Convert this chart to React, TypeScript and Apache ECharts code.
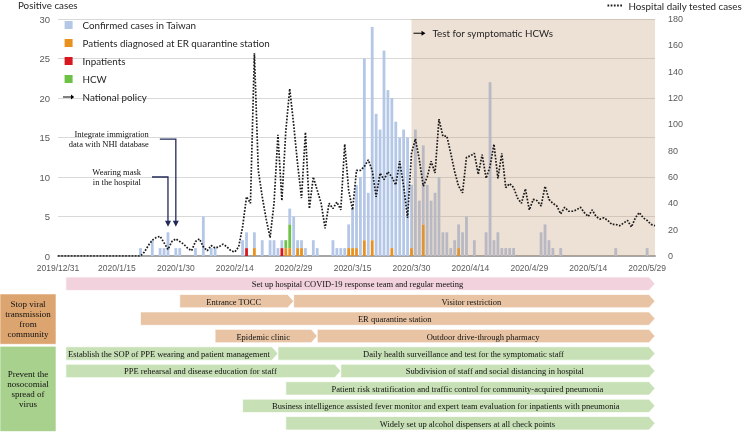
import React, { useEffect, useRef } from 'react';
import * as echarts from 'echarts';

const SANS = "Lato, 'Liberation Sans', sans-serif";
const AXIS_FONT = "'Liberation Sans', Arial, sans-serif";
const SERIF = "'Liberation Serif', 'Times New Roman', serif";

// ---- categories: every day from 2019/12/31 to 2020/5/31
const DAYS = 153;
const categories: string[] = [];
for (let i = 0; i < DAYS; i++) {
  const d = new Date(2019, 11, 31 + i);
  categories.push(`${d.getFullYear()}/${d.getMonth() + 1}/${d.getDate()}`);
}
const dayIndex = (s: string) => categories.indexOf(s);

// ---- confirmed cases in Taiwan (total per day)
const confirmedCases: [string, number][] = [
  ['2020/1/21', 1], ['2020/1/24', 2], ['2020/1/26', 1], ['2020/1/27', 1], ['2020/1/28', 3],
  ['2020/1/30', 1], ['2020/1/31', 1], ['2020/2/4', 1], ['2020/2/6', 5], ['2020/2/8', 1],
  ['2020/2/9', 1], ['2020/2/16', 2], ['2020/2/17', 3], ['2020/2/19', 3], ['2020/2/21', 2],
  ['2020/2/23', 2], ['2020/2/24', 2], ['2020/2/25', 1], ['2020/2/26', 2], ['2020/2/27', 2],
  ['2020/2/28', 6], ['2020/2/29', 5], ['2020/3/1', 2], ['2020/3/2', 2], ['2020/3/3', 1],
  ['2020/3/5', 2], ['2020/3/6', 1], ['2020/3/10', 2], ['2020/3/11', 1], ['2020/3/12', 1],
  ['2020/3/13', 1], ['2020/3/14', 4], ['2020/3/15', 6], ['2020/3/16', 9], ['2020/3/17', 10],
  ['2020/3/18', 25], ['2020/3/19', 8], ['2020/3/20', 29], ['2020/3/21', 18], ['2020/3/22', 16],
  ['2020/3/23', 26], ['2020/3/24', 21], ['2020/3/25', 20], ['2020/3/26', 17], ['2020/3/27', 15],
  ['2020/3/28', 16], ['2020/3/29', 15], ['2020/3/30', 9], ['2020/3/31', 16], ['2020/4/1', 7],
  ['2020/4/2', 14], ['2020/4/3', 9], ['2020/4/4', 7], ['2020/4/5', 8], ['2020/4/6', 10],
  ['2020/4/7', 3], ['2020/4/8', 3], ['2020/4/9', 1], ['2020/4/10', 2], ['2020/4/11', 4],
  ['2020/4/12', 3], ['2020/4/13', 5], ['2020/4/15', 2], ['2020/4/18', 3], ['2020/4/19', 22],
  ['2020/4/20', 2], ['2020/4/21', 3], ['2020/4/22', 1], ['2020/4/23', 1], ['2020/4/24', 1],
  ['2020/4/25', 1], ['2020/5/2', 3], ['2020/5/3', 4], ['2020/5/4', 2], ['2020/5/5', 1],
  ['2020/5/7', 1], ['2020/5/21', 1], ['2020/5/29', 1],
];
// subsets of the confirmed cases
const erQuarantineCases: [string, number][] = [
  ['2020/2/19', 1], ['2020/2/27', 1], ['2020/2/28', 1], ['2020/3/1', 1], ['2020/3/2', 1],
  ['2020/3/14', 1], ['2020/3/15', 1], ['2020/3/16', 1], ['2020/3/18', 2], ['2020/3/20', 2],
  ['2020/3/25', 1], ['2020/3/30', 1], ['2020/4/2', 4], ['2020/4/11', 1],
];
const inpatientCases: [string, number][] = [['2020/2/17', 1], ['2020/2/26', 1]];
const hcwCases: [string, number][] = [['2020/2/27', 1], ['2020/2/28', 3]];

// ---- hospital daily tested cases (one value per day)
const testedCases: number[] = [
  0, 0, 0, 0, 0, 0, 0, 0, 0, 0,
  0, 0, 0, 0, 0, 0, 0, 0, 0, 0,
  0, 0, 3, 8, 12, 14, 15, 10, 5, 11,
  13, 11, 9, 6, 4, 11, 13, 7, 4, 8,
  6, 7, 9, 7, 4, 3, 7, 22, 45, 40,
  154, 65, 45, 28, 14, 40, 92, 42, 95, 127,
  100, 70, 44, 94, 36, 60, 50, 40, 21, 40,
  36, 41, 35, 85, 50, 35, 65, 65, 68, 73,
  65, 45, 63, 58, 64, 60, 54, 72, 53, 29,
  78, 89, 73, 53, 60, 72, 63, 104, 91, 91,
  78, 64, 53, 48, 75, 76, 78, 62, 77, 59,
  68, 85, 59, 78, 52, 55, 52, 44, 40, 51,
  35, 43, 42, 38, 53, 43, 40, 38, 32, 37,
  34, 34, 35, 37, 33, 30, 35, 30, 28, 29,
  27, 24, 24, 23, 25, 27, 22, 29, 33, 29,
  27, 24, 23,
];

// ---- national policy notes
const policyDates = ['2020/1/28', '2020/1/30'];
const policyLabels = ['Wearing mask\nin the hospital', 'Integrate immigration\ndata with NHI database'];
const hcwTestDate = '2020/3/30';
const hcwTestLabel = 'Test for symptomatic HCWs';

// ---- hospital interventions timeline
const interventionLabels = [
  'Set up hospital COVID-19 response team and regular meeting',
  'Entrance TOCC',
  'Visitor restriction',
  'ER quarantine station',
  'Epidemic clinic',
  'Outdoor drive-through pharmacy',
  'Establish the SOP of PPE wearing and patient management',
  'Daily health surveillance and test for the symptomatic staff',
  'PPE rehearsal and disease education for staff',
  'Subdivision of staff and social distancing in hospital',
  'Patient risk stratification and traffic control for community-acquired pneumonia',
  'Business intelligence assisted fever monitor and expert team evaluation for inpatients with pneumonia',
  'Widely set up alcohol dispensers at all check points',
];
const interventionStart = [
  '2020/1/2', '2020/1/31', '2020/2/29', '2020/1/21', '2020/2/9', '2020/3/6', '2020/1/2',
  '2020/2/25', '2020/1/2', '2020/3/12', '2020/2/27', '2020/2/16', '2020/2/27',
];
const interventionEnd = [
  '2020/5/31', '2020/2/29', '2020/5/31', '2020/5/31', '2020/3/6', '2020/5/31', '2020/2/25',
  '2020/5/31', '2020/3/12', '2020/5/31', '2020/5/31', '2020/5/31', '2020/5/31',
];
const interventionRow = [0, 1, 1, 2, 3, 3, 4, 4, 5, 5, 6, 7, 8];
const interventionGroup = [0, 1, 1, 1, 1, 1, 2, 2, 2, 2, 2, 2, 2];
const groupLabels = ['Stop viral\ntransmission\nfrom\ncommunity', 'Prevent the\nnosocomial\nspread of\nvirus'];
const groupFirstRow = [1, 4];
const groupLastRow = [3, 8];

// ---- styles
const groupFill = ['#f2d2dc', '#e8c4a4', '#c7e0b5'];
const groupBoxFill = ['', '#dca46f', '#a9d18e'];
const NOTE_ELBOW = [10, 14.8];
const NOTE_TIP = 3.7;
const HCW_NOTE_LEVEL = 28.2;

const toDaily = (pairs: [string, number][]) => {
  const arr = new Array(DAYS).fill(0);
  pairs.forEach(([d, v]) => { arr[dayIndex(d)] = v; });
  return arr;
};

export default function App() {
  const ref = useRef<HTMLDivElement>(null);
  useEffect(() => {
    if (!ref.current) return;
    const chart = echarts.init(ref.current, undefined, { renderer: 'svg' });
    const total = toDaily(confirmedCases);
    const er = toDaily(erQuarantineCases);
    const inp = toDaily(inpatientCases);
    const hcw = toDaily(hcwCases);
    const other = total.map((t, i) => t - er[i] - inp[i] - hcw[i]);
    const z2n = (a: number[]) => a.map((v) => (v > 0 ? v : '-'));

    const barCommon = { type: 'bar', stack: 'cases', barWidth: 2.8, xAxisIndex: 0, yAxisIndex: 0 };
    const squareIcon = 'path://M0,0H8V8H0Z';
    const arrowIcon = 'path://M0,0h0.01v0.01h-0.01Z M0,4.5H10V2L14,5L10,8V5.5H0Z M0,9.99h0.01v0.01h-0.01Z';

    chart.setOption({
      animation: false,
      textStyle: { fontFamily: SANS },
      grid: [
        { left: 58, right: 88, top: 19, height: 237 },
        { left: 58, right: 88, top: 275, height: 157 },
      ],
      legend: [
        {
          orient: 'vertical', left: 63, top: 19, padding: 0, itemWidth: 18, itemHeight: 8, itemGap: 6,
          selectedMode: false, icon: squareIcon,
          textStyle: { fontSize: 9.8, lineHeight: 12, color: '#262626', fontFamily: SANS },
          data: [
            'Confirmed cases in Taiwan', 'Patients diagnosed at ER quarantine station', 'Inpatients', 'HCW',
            { name: 'National policy', icon: arrowIcon },
          ],
        },
        {
          right: 1, top: 0, padding: 0, itemWidth: 16, itemHeight: 8, itemGap: 2, selectedMode: false,
          itemStyle: { opacity: 0 },
          textStyle: { fontSize: 9.8, lineHeight: 11, color: '#262626', fontFamily: SANS },
          data: ['Hospital daily tested cases'],
        },
      ],
      xAxis: [
        {
          type: 'category', gridIndex: 0, data: categories, boundaryGap: false,
          axisLine: { lineStyle: { color: '#a6a6a6', width: 2 } },
          axisTick: { show: false },
          axisLabel: { interval: 14, fontSize: 8.5, color: '#595959', margin: 7, fontFamily: AXIS_FONT },
          splitLine: { show: false },
        },
        { type: 'value', gridIndex: 1, min: 0, max: DAYS - 1, show: false },
      ],
      yAxis: [
        {
          type: 'value', gridIndex: 0, min: 0, max: 30, interval: 5,
          axisLine: { show: false }, axisTick: { show: false },
          axisLabel: { fontSize: 9.5, color: '#595959', margin: 8, fontFamily: AXIS_FONT },
          splitLine: { lineStyle: { color: '#d9d9d9', width: 1 } },
        },
        {
          type: 'value', gridIndex: 0, min: 0, max: 180, interval: 20, position: 'right',
          axisLine: { show: false }, axisTick: { show: false },
          axisLabel: { fontSize: 9, color: '#595959', margin: 13, fontFamily: AXIS_FONT },
          splitLine: { show: false },
        },
        { type: 'value', gridIndex: 1, min: 0, max: 9, inverse: true, show: false },
      ],
      graphic: [
        { type: 'text', left: 18, top: 0, style: { text: 'Positive cases', fontSize: 9.8, fill: '#262626', fontFamily: SANS } },
      ],
      series: [
        { ...barCommon, name: 'Patients diagnosed at ER quarantine station', data: z2n(er), itemStyle: { color: '#e8911f' } },
        { ...barCommon, name: 'Inpatients', data: z2n(inp), itemStyle: { color: '#d8171e' } },
        { ...barCommon, name: 'HCW', data: z2n(hcw), itemStyle: { color: '#6dc144' } },
        { ...barCommon, name: 'Confirmed cases in Taiwan', data: z2n(other), itemStyle: { color: '#b4c7e7' } },
        { name: 'National policy', type: 'line', data: [], itemStyle: { color: '#000' }, xAxisIndex: 0, yAxisIndex: 0 },
        {
          name: 'Hospital daily tested cases', type: 'line', xAxisIndex: 0, yAxisIndex: 1, data: testedCases,
          symbol: 'none', z: 4, itemStyle: { color: '#1a1a1a' },
          lineStyle: { color: '#1a1a1a', width: 1.7, type: [1.7, 1.5] },
          markArea: {
            silent: true, z: 3,
            itemStyle: { color: 'rgba(195,152,112,0.3)' },
            data: [[{ xAxis: hcwTestDate }, { xAxis: categories[DAYS - 1] }]],
          },
        },
        {
          type: 'custom', name: 'policyNotes', xAxisIndex: 0, yAxisIndex: 0, z: 6,
          data: policyDates.map((d, i) => [d, NOTE_ELBOW[i], i]),
          encode: { x: 0, y: 1 },
          renderItem: (params: any, api: any) => {
            const idx = api.value(0);
            const i = api.value(2);
            const tip = api.coord([idx, NOTE_TIP]);
            const elbow = api.coord([idx, api.value(1)]);
            const x = tip[0];
            const c = '#222a5a';
            return {
              type: 'group',
              children: [
                { type: 'polyline', shape: { points: [[x - 16, elbow[1]], [x, elbow[1]], [x, tip[1] - 5]] }, style: { stroke: c, lineWidth: 1.3, fill: null } },
                { type: 'polygon', shape: { points: [[x - 3, tip[1] - 6], [x + 3, tip[1] - 6], [x, tip[1]]] }, style: { fill: c } },
                { type: 'text', x: x - 27, y: elbow[1], style: { text: policyLabels[i], align: 'right', verticalAlign: 'middle', fontFamily: SERIF, fontSize: 8.5, lineHeight: 10, fill: '#111' } },
              ],
            };
          },
        },
        {
          type: 'custom', name: 'hcwNote', xAxisIndex: 0, yAxisIndex: 0, z: 6,
          data: [[hcwTestDate, HCW_NOTE_LEVEL]],
          encode: { x: 0, y: 1 },
          renderItem: (params: any, api: any) => {
            const p = api.coord([api.value(0), api.value(1)]);
            return {
              type: 'group',
              children: [
                { type: 'line', shape: { x1: p[0] + 2, y1: p[1], x2: p[0] + 11, y2: p[1] }, style: { stroke: '#000', lineWidth: 1 } },
                { type: 'polygon', shape: { points: [[p[0] + 10, p[1] - 2.5], [p[0] + 14, p[1]], [p[0] + 10, p[1] + 2.5]] }, style: { fill: '#000' } },
                { type: 'text', x: p[0] + 21, y: p[1], style: { text: hcwTestLabel, align: 'left', verticalAlign: 'middle', fontFamily: SANS, fontSize: 9.8, fill: '#262626' } },
              ],
            };
          },
        },
        {
          type: 'custom', name: 'interventions', xAxisIndex: 1, yAxisIndex: 2, z: 3,
          data: interventionLabels.map((_, i) => [dayIndex(interventionStart[i]), dayIndex(interventionEnd[i]), interventionRow[i] + 0.5, i]),
          encode: { x: [0, 1], y: 2 },
          renderItem: (params: any, api: any) => {
            const i = api.value(3);
            const a = api.coord([api.value(0), api.value(2)]);
            const b = api.coord([api.value(1), api.value(2)]);
            const h = 13.4, tip = 6, y = a[1], xa = a[0], xb = b[0];
            return {
              type: 'group',
              children: [
                {
                  type: 'polygon',
                  shape: { points: [[xa, y - h / 2], [xb - tip, y - h / 2], [xb, y], [xb - tip, y + h / 2], [xa, y + h / 2]] },
                  style: { fill: groupFill[interventionGroup[i]], stroke: 'rgba(255,255,255,0.7)', lineWidth: 1 },
                },
                { type: 'text', x: (xa + xb - tip) / 2, y: y + 0.5, style: { text: interventionLabels[i], align: 'center', verticalAlign: 'middle', fontFamily: SERIF, fontSize: 8.5, fill: '#111' } },
              ],
            };
          },
        },
        {
          type: 'custom', name: 'groups', xAxisIndex: 1, yAxisIndex: 2, z: 3,
          data: groupLabels.map((_, i) => [0, groupFirstRow[i], groupLastRow[i] + 1, i]),
          encode: { x: 0, y: [1, 2] },
          renderItem: (params: any, api: any) => {
            const i = api.value(3);
            const top = api.coord([0, api.value(1)])[1] + 1.5;
            const bottom = api.coord([0, api.value(2)])[1] - 0.5;
            const right = params.coordSys.x - 2;
            return {
              type: 'group',
              children: [
                { type: 'rect', shape: { x: 0, y: top, width: right, height: bottom - top }, style: { fill: groupBoxFill[i + 1], stroke: 'rgba(255,255,255,0.6)', lineWidth: 1 } },
                { type: 'text', x: right / 2, y: (top + bottom) / 2, style: { text: groupLabels[i], align: 'center', verticalAlign: 'middle', fontFamily: SERIF, fontSize: 9, lineHeight: 10, fill: '#111' } },
              ],
            };
          },
        },
      ],
    });
    return () => chart.dispose();
  }, []);
  return <div ref={ref} style={{ position: 'fixed', left: 0, top: 0, width: 743, height: 432 }} />;
}
